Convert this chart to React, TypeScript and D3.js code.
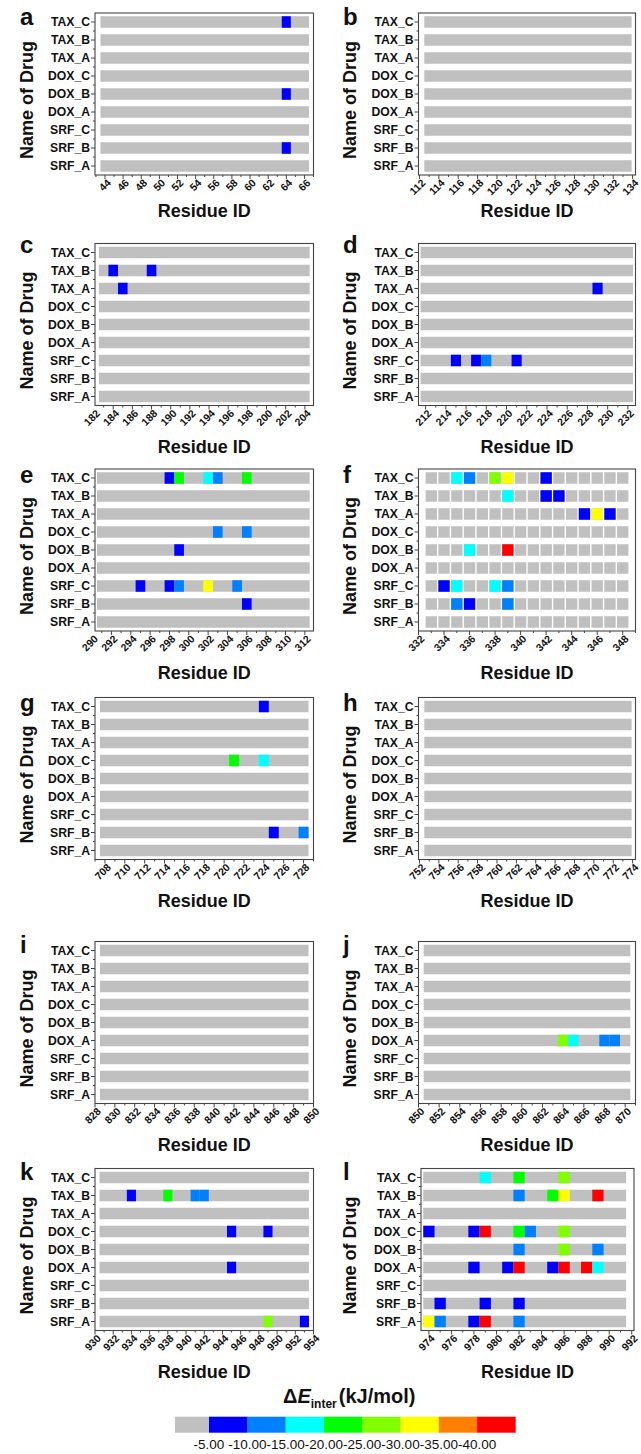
import React from 'react';
import * as d3 from 'd3';

// ---------- data ----------
const DRUGS = ['TAX_C', 'TAX_B', 'TAX_A', 'DOX_C', 'DOX_B', 'DOX_A', 'SRF_C', 'SRF_B', 'SRF_A'];

const ENERGY_THRESHOLDS = [-40, -35, -30, -25, -20, -15, -10, -5];
const ENERGY_COLORS = ['#FF0000', '#FF8000', '#FFFF00', '#80FF00', '#00FF00', '#00FFFF', '#0080FF', '#0000FF', '#C0C0C0'];
const LEGEND_LABELS = ['-5.00', '-10.00', '-15.00', '-20.00', '-25.00', '-30.00', '-35.00', '-40.00'];

const PANEL_LETTERS = ['a', 'b', 'c', 'd', 'e', 'f', 'g', 'h', 'i', 'j', 'k', 'l'];
const AXIS_DOMAINS: [number, number][] = [
  [42.9, 67], [111.9, 134.3], [182.1, 204.9], [211.3, 232.75], [290.3, 312.9], [332, 349],
  [707, 729], [751.9, 774.3], [828, 850], [850, 871], [930, 954], [973.3, 992.2],
];
const CELL_RANGES: [number, number][] = [
  [44, 66], [113, 133.4], [183, 204], [212, 232], [291, 312], [333, 348],
  [708, 728], [753, 773.4], [829, 849], [851, 870], [931, 953], [974, 991],
];
const TICK_RANGES: [number, number][] = [
  [44, 66], [112, 134], [182, 204], [212, 232], [290, 312], [332, 348],
  [708, 728], [752, 774], [828, 850], [850, 870], [930, 954], [974, 992],
];
const SEPARATED_CELLS = [false, false, false, false, false, true, false, false, false, false, false, false];

type Contact = [string, number, number]; // drug, residue, ΔE_inter (kJ/mol)

const CONTACTS_A: Contact[] = [['TAX_C', 64, -7.5], ['DOX_B', 64, -7.5], ['SRF_B', 64, -7.5]];
const CONTACTS_B: Contact[] = [];
const CONTACTS_C: Contact[] = [['TAX_B', 184, -7.5], ['TAX_B', 188, -7.5], ['TAX_A', 185, -7.5]];
const CONTACTS_D: Contact[] = [
  ['TAX_A', 229, -7.5],
  ['SRF_C', 215, -7.5], ['SRF_C', 217, -7.5], ['SRF_C', 218, -12.5], ['SRF_C', 221, -7.5],
];
const CONTACTS_E: Contact[] = [
  ['TAX_C', 298, -7.5], ['TAX_C', 299, -22.5], ['TAX_C', 302, -17.5], ['TAX_C', 303, -12.5], ['TAX_C', 306, -22.5],
  ['DOX_C', 303, -12.5], ['DOX_C', 306, -12.5],
  ['DOX_B', 299, -7.5],
  ['SRF_C', 295, -7.5], ['SRF_C', 298, -7.5], ['SRF_C', 299, -12.5], ['SRF_C', 302, -32.5], ['SRF_C', 305, -12.5],
  ['SRF_B', 306, -7.5],
];
const CONTACTS_F: Contact[] = [
  ['TAX_C', 335, -17.5], ['TAX_C', 336, -12.5], ['TAX_C', 338, -27.5], ['TAX_C', 339, -32.5], ['TAX_C', 342, -7.5],
  ['TAX_B', 339, -17.5], ['TAX_B', 342, -7.5], ['TAX_B', 343, -7.5],
  ['TAX_A', 345, -7.5], ['TAX_A', 346, -32.5], ['TAX_A', 347, -7.5],
  ['DOX_B', 336, -17.5], ['DOX_B', 339, -42.5],
  ['SRF_C', 334, -7.5], ['SRF_C', 335, -17.5], ['SRF_C', 338, -17.5], ['SRF_C', 339, -12.5],
  ['SRF_B', 335, -12.5], ['SRF_B', 336, -7.5], ['SRF_B', 339, -12.5],
];
const CONTACTS_G: Contact[] = [
  ['TAX_C', 724, -7.5],
  ['DOX_C', 721, -22.5], ['DOX_C', 724, -17.5],
  ['SRF_B', 725, -7.5], ['SRF_B', 728, -12.5],
];
const CONTACTS_H: Contact[] = [];
const CONTACTS_I: Contact[] = [];
const CONTACTS_J: Contact[] = [
  ['DOX_A', 864, -27.5], ['DOX_A', 865, -17.5], ['DOX_A', 868, -12.5], ['DOX_A', 869, -12.5],
];
const CONTACTS_K: Contact[] = [
  ['TAX_B', 934, -7.5], ['TAX_B', 938, -22.5], ['TAX_B', 941, -12.5], ['TAX_B', 942, -12.5],
  ['DOX_C', 945, -7.5], ['DOX_C', 949, -7.5],
  ['DOX_A', 945, -7.5],
  ['SRF_A', 949, -27.5], ['SRF_A', 953, -7.5],
];
const CONTACTS_L: Contact[] = [
  ['TAX_C', 979, -17.5], ['TAX_C', 982, -22.5], ['TAX_C', 986, -27.5],
  ['TAX_B', 982, -12.5], ['TAX_B', 985, -22.5], ['TAX_B', 986, -32.5], ['TAX_B', 989, -42.5],
  ['DOX_C', 974, -7.5], ['DOX_C', 978, -7.5], ['DOX_C', 979, -42.5], ['DOX_C', 982, -22.5], ['DOX_C', 983, -12.5], ['DOX_C', 986, -27.5],
  ['DOX_B', 982, -12.5], ['DOX_B', 986, -27.5], ['DOX_B', 989, -12.5],
  ['DOX_A', 978, -7.5], ['DOX_A', 981, -7.5], ['DOX_A', 982, -42.5], ['DOX_A', 985, -7.5], ['DOX_A', 986, -42.5], ['DOX_A', 988, -42.5], ['DOX_A', 989, -17.5],
  ['SRF_B', 975, -7.5], ['SRF_B', 979, -7.5], ['SRF_B', 982, -7.5],
  ['SRF_A', 974, -32.5], ['SRF_A', 975, -12.5], ['SRF_A', 978, -7.5], ['SRF_A', 979, -42.5], ['SRF_A', 982, -12.5],
];
const PANEL_CONTACTS = [
  CONTACTS_A, CONTACTS_B, CONTACTS_C, CONTACTS_D, CONTACTS_E, CONTACTS_F,
  CONTACTS_G, CONTACTS_H, CONTACTS_I, CONTACTS_J, CONTACTS_K, CONTACTS_L,
];

// ---------- layout ----------
const W = 641;
const H = 1454;
const COL_X: [number, number][] = [[95, 313.5], [418.5, 635.5]];
const ROW_TOP = [13, 243.5, 469, 697.5, 941.5, 1168.5];
const FRAME_H = 162;
const LETTER_BASE = [25, 253, 483, 711, 953, 1180];
const TITLE_OFF = [42, 47, 47.5, 47, 47.5, 47];
const FONT = "'Liberation Sans', Arial, sans-serif";

const color = d3.scaleThreshold<number, string>().domain(ENERGY_THRESHOLDS).range(ENERGY_COLORS);

function Panel({ idx }: { idx: number }) {
  const col = idx % 2;
  const row = Math.floor(idx / 2);
  let [x0, x1] = COL_X[col];
  if (idx === 11) { x0 = 421; x1 = 634; }
  const top = ROW_TOP[row];
  const bottom = top + FRAME_H;
  const x = d3.scaleLinear().domain(AXIS_DOMAINS[idx]).range([x0, x1]);
  const y = d3.scaleBand<string>().domain(DRUGS).range([top, bottom]).paddingInner(0.36).paddingOuter(0.18);
  const [c0, c1] = CELL_RANGES[idx];
  const [t0, t1] = TICK_RANGES[idx];
  const sep = SEPARATED_CELLS[idx];
  const gap = sep ? 0.7 : 0;
  const residues = d3.range(c0, Math.floor(c1) + 1);
  const majors = d3.range(t0, t1 + 1, 2);
  const [d0, d1] = AXIS_DOMAINS[idx];
  const minors = d3.range(Math.ceil(d0), Math.floor(d1) + 1).filter((v) => (v - t0) % 2 !== 0);
  const step = y.step();
  const contacts = PANEL_CONTACTS[idx];
  const letterX = col === 0 ? 20 : 343;
  const nameX = col === 0 ? 33 : 356;
  const cy = (top + bottom) / 2 + 6;

  return (
    <g>
      <text x={letterX} y={LETTER_BASE[row]} fontFamily={FONT} fontWeight="bold" fontSize={24} fill="#111">
        {PANEL_LETTERS[idx]}
      </text>
      <text
        transform={`translate(${nameX},${cy}) rotate(-90)`}
        textAnchor="middle"
        fontFamily={FONT}
        fontWeight="bold"
        fontSize={18}
        fill="#111"
      >
        Name of Drug
      </text>
      {/* background rows */}
      {DRUGS.map((d) =>
        sep ? (
          residues.map((r) => (
            <rect
              key={d + r}
              x={x(r - 0.5) + gap}
              y={y(d)!}
              width={x(r + 0.5) - x(r - 0.5) - 2 * gap}
              height={y.bandwidth()}
              fill={ENERGY_COLORS[ENERGY_COLORS.length - 1]}
            />
          ))
        ) : (
          <rect
            key={d}
            x={x(c0 - 0.5)}
            y={y(d)!}
            width={x(c1 + 0.5) - x(c0 - 0.5)}
            height={y.bandwidth()}
            fill={ENERGY_COLORS[ENERGY_COLORS.length - 1]}
          />
        )
      )}
      {/* interaction cells */}
      {contacts.map(([d, r, e], i) => (
        <rect
          key={'c' + i}
          x={x(r - 0.5) + gap}
          y={y(d)!}
          width={x(r + 0.5) - x(r - 0.5) - 2 * gap}
          height={y.bandwidth()}
          fill={color(e)}
        />
      ))}
      {/* frame */}
      <rect x={x0} y={top} width={x1 - x0} height={FRAME_H} fill="none" stroke="#444" strokeWidth={1.1} />
      {/* y ticks */}
      {DRUGS.map((d) => {
        const yc = y(d)! + y.bandwidth() / 2;
        return (
          <g key={'yt' + d}>
            <line x1={x0 - 4} x2={x0} y1={yc} y2={yc} stroke="#444" strokeWidth={1} />
            <text x={x0 - 5} y={yc} dy="0.36em" textAnchor="end" fontFamily={FONT} fontWeight="bold" fontSize={12.2} fill="#111">
              {d}
            </text>
          </g>
        );
      })}
      {DRUGS.slice(0, -1).map((d) => {
        const ym = y(d)! + y.bandwidth() / 2 + step / 2;
        return <line key={'ym' + d} x1={x0 - 2} x2={x0} y1={ym} y2={ym} stroke="#444" strokeWidth={1} />;
      })}
      {/* x ticks */}
      {minors.map((v) => (
        <line key={'xm' + v} x1={x(v)} x2={x(v)} y1={bottom} y2={bottom + 2} stroke="#444" strokeWidth={1} />
      ))}
      {majors.map((v) => (
        <g key={'xt' + v}>
          {v >= d0 - 0.01 && v <= d1 + 0.01 && (
            <line x1={x(v)} x2={x(v)} y1={bottom} y2={bottom + 4} stroke="#444" strokeWidth={1} />
          )}
          <text
            transform={`translate(${x(v) + 4},${bottom + 6}) rotate(-45)`}
            dy="0.35em"
            textAnchor="end"
            fontFamily={FONT}
            fontWeight="bold"
            fontSize={10.5}
            fill="#111"
          >
            {v}
          </text>
        </g>
      ))}
      <text
        x={(x0 + x1) / 2}
        y={bottom + TITLE_OFF[row]}
        textAnchor="middle"
        fontFamily={FONT}
        fontWeight="bold"
        fontSize={18}
        fill="#111"
      >
        Residue ID
      </text>
    </g>
  );
}

function Legend() {
  const bx0 = 175;
  const greyW = 34;
  const segW = 38.3;
  const top = 1416.7;
  const h = 16;
  // legend order: grey (> -5) then increasingly negative bins
  const order = [...ENERGY_COLORS].reverse();
  const boundaries = LEGEND_LABELS.map((_, i) => bx0 + greyW + i * segW);
  return (
    <g>
      <text x={283} y={1402.5} fontFamily={FONT} fontWeight="bold" fontSize={20} fill="#111">
        <tspan>Δ</tspan>
        <tspan fontStyle="italic">E</tspan>
        <tspan fontSize={12} dy={5}>inter</tspan>
        <tspan dy={-5} dx={2}>(kJ/mol)</tspan>
      </text>
      {order.map((c, i) => {
        const xs = i === 0 ? bx0 : bx0 + greyW + (i - 1) * segW;
        const w = i === 0 ? greyW : segW;
        return <rect key={c} x={xs} y={top} width={w + 0.3} height={h} fill={c} />;
      })}
      {LEGEND_LABELS.map((l, i) => (
        <text key={l} x={boundaries[i]} y={1449} textAnchor="middle" fontFamily={FONT} fontSize={13.5} fill="#111">
          {l}
        </text>
      ))}
    </g>
  );
}

export default function App() {
  return (
    <svg
      width={W}
      height={H}
      viewBox={`0 0 ${W} ${H}`}
      style={{ position: 'absolute', left: 0, top: 0, background: '#fff' }}
    >
      {PANEL_LETTERS.map((_, i) => (
        <Panel key={i} idx={i} />
      ))}
      <Legend />
    </svg>
  );
}
